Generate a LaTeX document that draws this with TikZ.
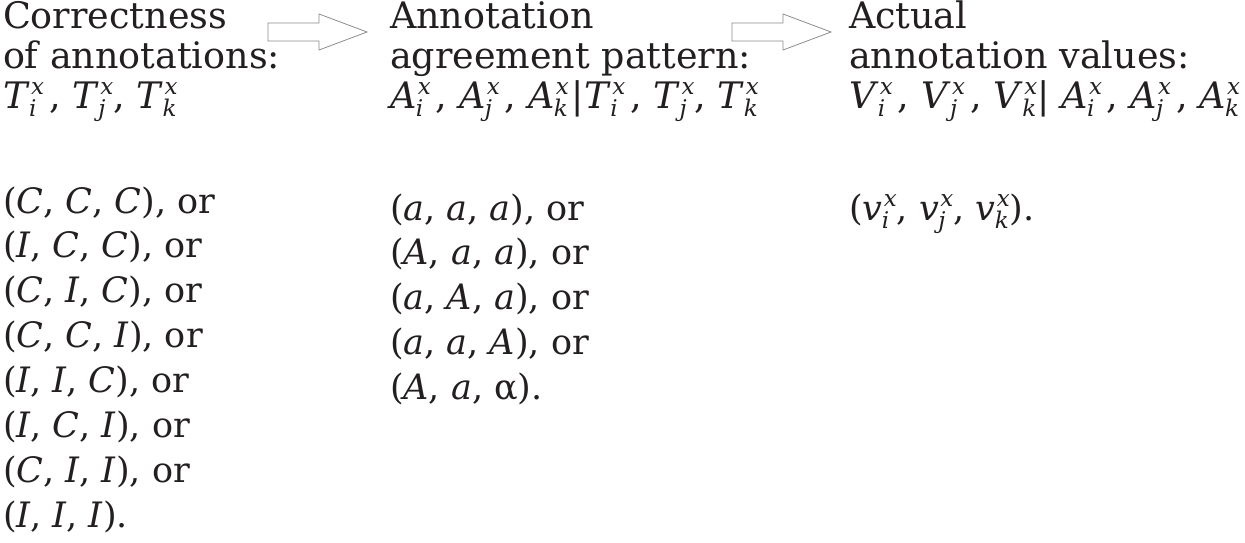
\documentclass[tikz,border=0pt]{standalone}
\usepackage{fontspec}
\setmainfont{DejaVu Serif}
\definecolor{arrowgray}{HTML}{8C8C8C}
\definecolor{inkc}{HTML}{231F20}
\newcommand\supsub[3]{\textit{#1}{\fontsize{23}{23}\selectfont
 \setbox0=\hbox{\kern1.5pt\raisebox{14pt}{\textit{#3}}}%
 \setbox2=\hbox{\kern-0.5pt\raisebox{-8pt}{\textit{#2}}}%
 \ifdim\wd0>\wd2 \rlap{\box2}\box0\else\rlap{\box0}\box2\fi}}
\newcommand\gap{\kern5pt}
\tikzset{
  txt/.style={anchor=base west, inner sep=0pt, outer sep=0pt, text=inkc},
  head/.style={txt, font=\fontsize{36.5}{40}\selectfont},
  item/.style={txt, font=\fontsize{35}{40}\selectfont},
  blockarrow/.style={draw=arrowgray, line width=0.8pt, line join=miter, fill=white}
}
\begin{document}
\begin{tikzpicture}[x=1pt,y=1pt]
\useasboundingbox (0,0) rectangle (1245,-542);
% headers
\node[head] (h1a) at (3,-28) {Correctness};
\node[head] (h1b) at (3,-68) {of annotations:};
\node[head] (h1c) at (3,-108) {\supsub{T}{i}{x}\gap, \supsub{T}{j}{x}, \supsub{T}{k}{x}};
\node[head] (h2a) at (390,-28) {Annotation};
\node[head] (h2b) at (390,-68) {agreement pattern:};
\node[head] (h2c) at (390,-108) {\supsub{A}{i}{x}\gap, \supsub{A}{j}{x}\gap, \supsub{A}{k}{x}\kern3pt|\supsub{T}{i}{x}\gap, \supsub{T}{j}{x}, \supsub{T}{k}{x}};
\node[head] (h3a) at (849,-28) {Actual};
\node[head] (h3b) at (849,-68) {annotation values:};
\node[head] (h3c) at (849,-108) {\supsub{V}{i}{x}\gap, \supsub{V}{j}{x}\gap, \supsub{V}{k}{x}| \supsub{A}{i}{x}\gap, \supsub{A}{j}{x}\gap, \supsub{A}{k}{x}};
% arrows
\foreach \dx/\nm in {0/ar1, 464/ar2}{
  \begin{scope}[xshift=\dx]
    \coordinate (\nm) at (367,-32);
    \draw[blockarrow] (268,-23) -- (319,-23) -- (319,-14) -- (\nm) -- (319,-50) -- (319,-41) -- (268,-41) -- cycle;
  \end{scope}
}
% column 1 list
\foreach \t [count=\k from 0] in {%
  {(\textit{C}, \textit{C}, \textit{C}), or},
  {(\textit{I}, \textit{C}, \textit{C}), or},
  {(\textit{C}, \textit{I}, \textit{C}), or},
  {(\textit{C}, \textit{C}, \textit{I}), or},
  {(\textit{I}, \textit{I}, \textit{C}), or},
  {(\textit{I}, \textit{C}, \textit{I}), or},
  {(\textit{C}, \textit{I}, \textit{I}), or},
  {(\textit{I}, \textit{I}, \textit{I}).}}{
  \node[item] (c1l\k) at (3,{-213-44.9*\k}) {\t};
}
% column 2 list
\foreach \t [count=\k from 0] in {%
  {(\textit{a}, \textit{a}, \textit{a}), or},
  {(\textit{A}, \textit{a}, \textit{a}), or},
  {(\textit{a}, \textit{A}, \textit{a}), or},
  {(\textit{a}, \textit{a}, \textit{A}), or},
  {(\textit{A}, \textit{a}, α).}}{
  \node[item] (c2l\k) at (390,{-220-44.9*\k}) {\t};
}
% column 3
\node[item] (c3l0) at (849,-220) {(\supsub{v}{i}{x}, \supsub{v}{j}{x}, \supsub{v}{k}{x}).};
\end{tikzpicture}
\end{document}
